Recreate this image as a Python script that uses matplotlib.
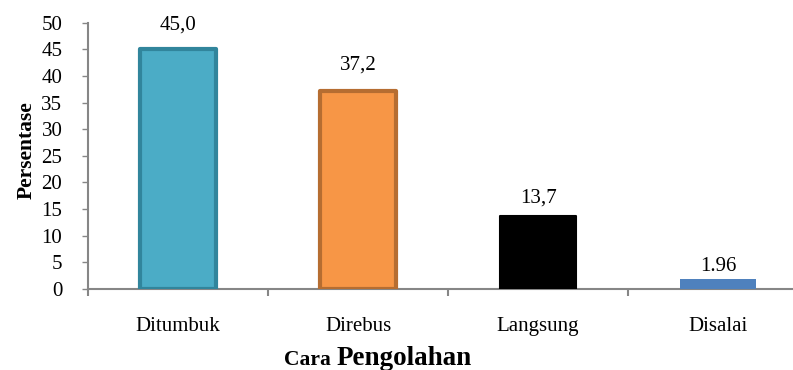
import matplotlib
matplotlib.use("Agg")
import matplotlib.pyplot as plt

categories = ["Ditumbuk", "Direbus", "Langsung", "Disalai"]
values = [45.0, 37.2, 13.7, 1.96]
value_labels = ["45,0", "37,2", "13,7", "1.96"]
fill_colors = ["#4BACC6", "#F79646", "#000000", "#4F81BD"]
edge_colors = ["#31859C", "#B66D31", "#000000", "#4F81BD"]
edge_widths = [3.0, 3.0, 1.5, 0.0]
label_offsets_pt = [11, 11.5, 6, 1.5]
y_ticks = [0, 5, 10, 15, 20, 25, 30, 35, 40, 45, 50]

plt.rcParams["font.family"] = ["Liberation Serif", "DejaVu Serif"]

fig = plt.figure(figsize=(7.93, 3.70), dpi=100)
ax = fig.add_axes([0.111, 0.219, 0.908, 0.7196])

x = list(range(len(categories)))
bars = ax.bar(x, values, width=0.42, color=fill_colors,
              edgecolor=edge_colors, linewidth=edge_widths, zorder=3)
for b in bars:
    b.set_joinstyle("round")

for xi, v, lab, off in zip(x, values, value_labels, label_offsets_pt):
    ax.annotate(lab, (xi, v), xytext=(0, off), textcoords="offset points",
                ha="center", va="bottom", fontsize=15)

ax.set_xlim(-0.5, len(categories) - 0.5)
ax.set_ylim(0, 50)
ax.set_yticks(y_ticks)
ax.tick_params(axis="y", labelsize=15, length=4.5, color="#868686", width=1, pad=14)

ax.set_xticks([i - 0.5 for i in range(len(categories) + 1)])
ax.set_xticklabels([])
ax.set_xticks(x, minor=True)
ax.set_xticklabels(categories, minor=True, fontsize=15)
ax.tick_params(axis="x", which="major", length=5, color="#868686", width=1.5)
ax.tick_params(axis="x", which="minor", length=0, pad=20)

for side in ["top", "right"]:
    ax.spines[side].set_visible(False)
for side in ["left", "bottom"]:
    ax.spines[side].set_color("#868686")
    ax.spines[side].set_linewidth(1.5)

ax.set_ylabel("Persentase", fontsize=15.5, fontweight="bold", labelpad=3.5, y=0.523)

fig.text(0.424, 0.013, "Cara ", fontsize=15.5, fontweight="bold",
         ha="right", va="baseline")
fig.text(0.424, 0.013, "Pengolahan", fontsize=19.5, fontweight="bold",
         ha="left", va="baseline")

fig.savefig("out.png", dpi=100)
